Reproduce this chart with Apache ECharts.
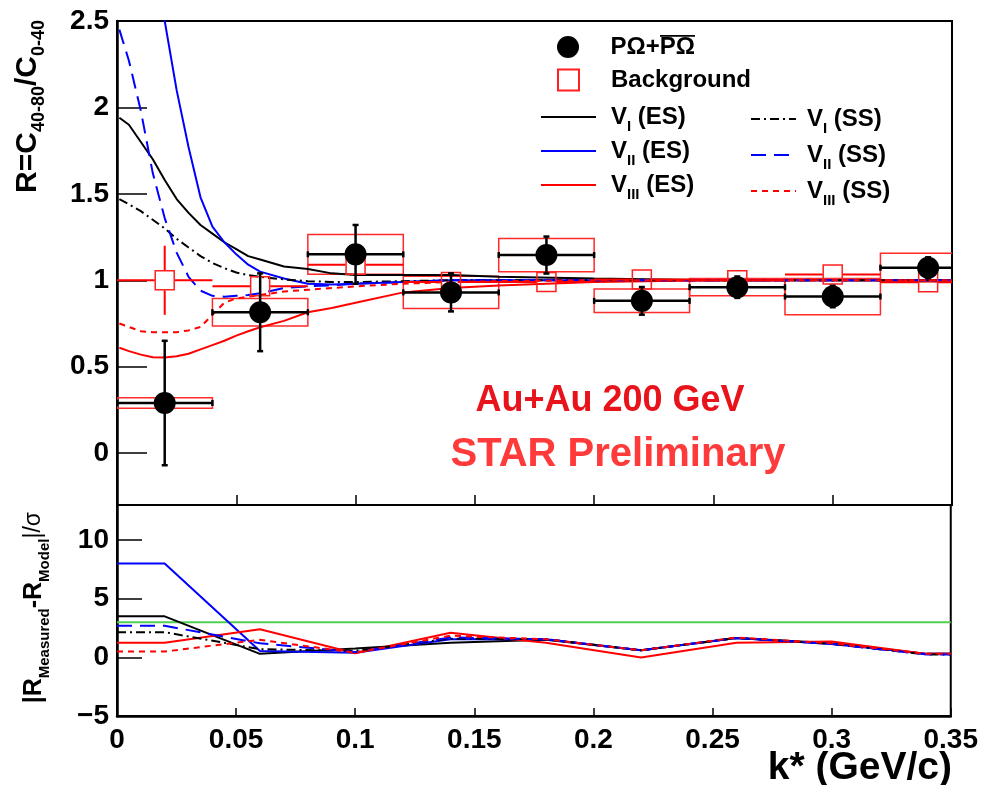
<!DOCTYPE html>
<html><head><meta charset="utf-8">
<script src="https://cdn.jsdelivr.net/npm/echarts@6/dist/echarts.min.js"></script>
<style>html,body{margin:0;padding:0;background:#fff}#c{width:981px;height:785px}</style>
</head><body><div id="c"></div>
<script>
// ---------------- data ----------------
const binCenters   = [0.02, 0.06, 0.10, 0.14, 0.18, 0.22, 0.26, 0.30, 0.34];
const binHalfWidth = [0.02, 0.02, 0.02, 0.02, 0.02, 0.02, 0.02, 0.02, 0.02];
const dataR        = [0.29, 0.815, 1.15, 0.93, 1.146, 0.881, 0.96, 0.906, 1.073];
const dataStatErr  = [0.36, 0.225, 0.17, 0.11, 0.107, 0.08, 0.062, 0.062, 0.06];
const dataSysErr   = [0.03, 0.08, 0.115, 0.093, 0.096, 0.068, 0.05, 0.105, 0.083];
const bkgR         = [1.0, 0.965, 1.09, 0.99, 0.99, 1.005, 1.0, 1.033, 0.988];
const bkgErr       = [0.2, 0.0, 0.0, 0.0, 0.0, 0.0, 0.0, 0.0, 0.0];

const kModel   = [0.001,0.005,0.01,0.015,0.02,0.025,0.03,0.035,0.04,0.045,0.05,0.055,0.06,0.07,0.08,0.09,0.1,0.12,0.14,0.16,0.2,0.25,0.3,0.35];
const vI_ES    = [1.94,1.90,1.80,1.70,1.58,1.47,1.39,1.32,1.27,1.22,1.18,1.14,1.12,1.08,1.065,1.04,1.03,1.03,1.03,1.02,1.01,1.0,1.0,1.0];
const vII_ES   = [5.0,4.0,3.45,2.95,2.5,2.1,1.77,1.48,1.31,1.22,1.15,1.09,1.05,1.01,0.98,0.975,0.98,0.99,1.0,1.0,1.0,1.0,1.0,1.0];
const vIII_ES  = [0.61,0.59,0.57,0.555,0.553,0.56,0.575,0.60,0.625,0.65,0.68,0.705,0.728,0.765,0.815,0.84,0.87,0.93,0.955,0.97,0.99,1.0,1.0,1.0];
const vI_SS    = [1.47,1.44,1.40,1.35,1.30,1.24,1.19,1.14,1.10,1.07,1.045,1.03,1.02,1.005,0.995,0.99,0.99,0.995,1.0,1.0,1.0,1.0,1.0,1.0];
const vII_SS   = [2.45,2.27,1.98,1.62,1.36,1.16,1.02,0.94,0.91,0.905,0.91,0.915,0.925,0.955,0.965,0.97,0.98,0.99,1.0,1.0,1.0,1.0,1.0,1.0];
const vIII_SS  = [0.75,0.73,0.705,0.70,0.70,0.70,0.71,0.73,0.80,0.87,0.895,0.905,0.915,0.935,0.945,0.955,0.965,0.98,0.99,0.995,1.0,1.0,1.0,1.0];

const kRes       = [0, 0.02, 0.06, 0.10, 0.14, 0.18, 0.22, 0.26, 0.30, 0.34, 0.35];
const resI_ES    = [3.5, 3.5, 0.3, 0.75, 1.25, 1.5, 0.6, 1.65, 1.2, 0.3, 0.3];
const resII_ES   = [8.0, 8.0, 0.55, 0.4, 1.55, 1.55, 0.6, 1.65, 1.15, 0.3, 0.3];
const resIII_ES  = [1.25, 1.25, 2.4, 0.35, 2.1, 1.25, 0.0, 1.25, 1.35, 0.3, 0.3];
const resI_SS    = [2.15, 2.15, 0.7, 0.55, 1.6, 1.55, 0.6, 1.65, 1.15, 0.25, 0.25];
const resII_SS   = [2.7, 2.7, 1.2, 0.45, 1.7, 1.55, 0.6, 1.65, 1.15, 0.25, 0.25];
const resIII_SS  = [0.5, 0.5, 1.5, 0.4, 1.85, 1.55, 0.6, 1.7, 1.2, 0.3, 0.3];
const resLimit   = [3, 3];
const resLimitK  = [0, 0.35];

const upperTicks = [0, 0.5, 1, 1.5, 2, 2.5];
const lowerTicks = [-5, 0, 5, 10];

// ---------------- helpers ----------------
const FONT = '"Liberation Sans", Arial, Helvetica, sans-serif';
const zip = (xs, ys) => xs.map((x, i) => [x, ys[i]]);
const names = {
  data: 'P\u03A9+P\u03A9bar', bkg: 'Background',
  iES: 'V_I (ES)', iiES: 'V_II (ES)', iiiES: 'V_III (ES)',
  iSS: 'V_I (SS)', iiSS: 'V_II (SS)', iiiSS: 'V_III (SS)'
};
function legendFmt(n) {
  if (n === names.data) return 'P\u03A9+{o|P\u03A9}';
  const m = n.match(/^V_(I+) \((..)\)$/);
  if (m) return 'V{s|' + m[1] + '} (' + m[2] + ')';
  return n;
}
// overline image used as a rich-text background
const ovCanvas = document.createElement('canvas');
ovCanvas.width = 8; ovCanvas.height = 28;
(function () { const g = ovCanvas.getContext('2d'); g.fillStyle = '#000'; g.fillRect(0, 0, 8, 2); })();

const legendText = (pad) => ({
  color: '#000', fontSize: 24, fontWeight: 'bold', fontFamily: FONT, lineHeight: 34, padding: [0, 0, 0, pad],
  rich: {
    s: {fontSize: 15, fontWeight: 'bold', fontFamily: FONT, lineHeight: 18, verticalAlign: 'bottom', color: '#000'},
    o: {fontSize: 24, fontWeight: 'bold', fontFamily: FONT, color: '#000', backgroundColor: {image: ovCanvas}}
  }
});
const noSym = {color: 'rgba(0,0,0,0)', borderColor: 'rgba(0,0,0,0)', borderWidth: 0};
const lineItem = (n) => ({name: n, itemStyle: noSym});

const chart = echarts.init(document.getElementById('c'), null, {renderer: 'canvas'});

function lineSeries(name, xs, ys, color, type, xi, z) {
  return {
    name, type: 'line', xAxisIndex: xi, yAxisIndex: xi, data: zip(xs, ys),
    symbol: 'none', showSymbol: false, clip: true, z: z || 3,
    lineStyle: {color, width: 2, type: type || 'solid'},
    itemStyle: {color}, emphasis: {disabled: true}, silent: true
  };
}

const DASH_DOT = [9, 4, 2, 4];
const LONG_DASH = [15, 8];
const SHORT_DASH = [6, 5];

const boxData = binCenters.map((x, i) => [x, dataR[i], binHalfWidth[i], dataSysErr[i]]);
const errData = binCenters.map((x, i) => [x, dataR[i], binHalfWidth[i], dataStatErr[i]]);
const bkgErrData = binCenters.map((x, i) => [x, bkgR[i], binHalfWidth[i], bkgErr[i]]);

const axisLineStyle = (w) => ({onZero: false, lineStyle: {color: '#000', width: w}});
const legendBase = {orient: 'vertical', padding: 0, itemGap: 0, selectedMode: false, formatter: legendFmt};

const option = {
  animation: false,
  backgroundColor: '#fff',
  grid: [
    {left: 117, right: 29, top: 21, height: 484, show: true, borderColor: '#000', borderWidth: 2},
    {left: 117, right: 29, top: 505, height: 211, show: true, borderColor: '#000', borderWidth: 2}
  ],
  xAxis: [
    {gridIndex: 0, type: 'value', min: 0, max: 0.35, interval: 0.05,
     axisLine: axisLineStyle(2),
     axisTick: {inside: true, length: 10, lineStyle: {color: '#000', width: 1.5}},
     axisLabel: {show: false}, splitLine: {show: false}},
    {gridIndex: 1, type: 'value', min: 0, max: 0.35, interval: 0.05,
     axisLine: axisLineStyle(2.5),
     axisTick: {inside: true, length: 8, lineStyle: {color: '#000', width: 1.5}},
     axisLabel: {show: true, color: '#000', fontSize: 28, fontWeight: 'bold', fontFamily: FONT, margin: 10,
       formatter: v => String(Math.round(v * 100) / 100)},
     splitLine: {show: false}}
  ],
  yAxis: [
    {gridIndex: 0, type: 'value', min: -0.3, max: 2.5,
     axisLine: axisLineStyle(2.5),
     axisTick: {inside: true, length: 30, customValues: upperTicks, lineStyle: {color: '#000', width: 1.5}},
     axisLabel: {customValues: upperTicks, color: '#000', fontSize: 28, fontWeight: 'bold', fontFamily: FONT, margin: 8,
       formatter: v => String(v)},
     splitLine: {show: false}},
    {gridIndex: 1, type: 'value', min: -5, max: 13,
     axisLine: axisLineStyle(2.5),
     axisTick: {inside: true, length: 25, customValues: lowerTicks, lineStyle: {color: '#000', width: 1.5}},
     axisLabel: {customValues: lowerTicks, color: '#000', fontSize: 28, fontWeight: 'bold', fontFamily: FONT, margin: 8,
       formatter: v => v < 0 ? '\u2212' + (-v) : String(v)},
     splitLine: {show: false}}
  ],
  legend: [
    Object.assign({left: 557, top: 30, itemWidth: 55, itemHeight: 22,
      data: [names.data], textStyle: legendText(10)}, legendBase),
    Object.assign({left: 557, top: 63, itemWidth: 21, itemHeight: 21,
      data: [names.bkg], textStyle: legendText(27)}, legendBase),
    Object.assign({left: 540, top: 100, itemWidth: 55, itemHeight: 22,
      data: [lineItem(names.iES), lineItem(names.iiES), lineItem(names.iiiES)], textStyle: legendText(10)}, legendBase),
    Object.assign({left: 750, top: 102, itemWidth: 45, itemHeight: 22,
      data: [lineItem(names.iSS), lineItem(names.iiSS), lineItem(names.iiiSS)], textStyle: legendText(6)}, legendBase, {itemGap: 2})
  ],
  graphic: [
    {type: 'text', x: 28, y: 20, rotation: Math.PI / 2,
     style: {text: 'R=C{s|40-80}/C{s|0-40}', fill: '#000', fontSize: 30, fontWeight: 'bold', fontFamily: FONT,
       lineHeight: 40, align: 'right', verticalAlign: 'middle',
       rich: {s: {fontSize: 18, fontWeight: 'bold', fontFamily: FONT, lineHeight: 20, verticalAlign: 'bottom', fill: '#000'}}}},
    {type: 'text', x: 34, y: 512, rotation: Math.PI / 2,
     style: {text: '|R{s|Measured}-R{s|Model}{n||/\u03C3}', fill: '#000', fontSize: 25, fontWeight: 'bold', fontFamily: FONT,
       lineHeight: 36, align: 'right', verticalAlign: 'middle',
       rich: {s: {fontSize: 15, fontWeight: 'bold', fontFamily: FONT, lineHeight: 17, verticalAlign: 'bottom', fill: '#000'},
              n: {fontSize: 23, fontWeight: 'normal', fontFamily: FONT, fill: '#000'}}}},
    {type: 'text', x: 952, y: 768,
     style: {text: 'k* (GeV/c)', fill: '#000', fontSize: 39, fontWeight: 'bold', fontFamily: FONT, align: 'right', verticalAlign: 'middle'}},
    {type: 'text', x: 610, y: 401,
     style: {text: 'Au+Au 200 GeV', fill: '#e8141c', fontSize: 36, fontWeight: 'bold', fontFamily: FONT, align: 'center', verticalAlign: 'middle'}},
    {type: 'text', x: 618, y: 455,
     style: {text: 'STAR Preliminary', fill: '#ff3a3a', fontSize: 40, fontWeight: 'bold', fontFamily: FONT, align: 'center', verticalAlign: 'middle'}}
  ],
  series: [
    // systematic boxes of data
    {name: 'sys', type: 'custom', xAxisIndex: 0, yAxisIndex: 0, clip: true, z: 2, silent: true,
     data: boxData,
     renderItem: (params, api) => {
       const x = api.value(0), y = api.value(1), ex = api.value(2), s = api.value(3);
       const p1 = api.coord([x - ex, y + s]), p2 = api.coord([x + ex, y - s]);
       return {type: 'rect', shape: {x: p1[0], y: p1[1], width: p2[0] - p1[0], height: p2[1] - p1[1]},
               style: {fill: 'none', stroke: '#ff2a2a', lineWidth: 1.5}};
     }},
    lineSeries(names.iES, kModel, vI_ES, '#000000', 'solid', 0, 3),
    lineSeries(names.iiES, kModel, vII_ES, '#0000ff', 'solid', 0, 3),
    lineSeries(names.iiiES, kModel, vIII_ES, '#ff0000', 'solid', 0, 3),
    lineSeries(names.iSS, kModel, vI_SS, '#000000', DASH_DOT, 0, 3),
    lineSeries(names.iiSS, kModel, vII_SS, '#0000ff', LONG_DASH, 0, 3),
    lineSeries(names.iiiSS, kModel, vIII_SS, '#ff0000', SHORT_DASH, 0, 3),
    // background error bars
    {name: 'bkgErr', type: 'custom', xAxisIndex: 0, yAxisIndex: 0, clip: true, z: 4, silent: true,
     data: bkgErrData,
     renderItem: (params, api) => {
       const x = api.value(0), y = api.value(1), ex = api.value(2), ey = api.value(3);
       const c = api.coord([x, y]), l = api.coord([x - ex, y]), r = api.coord([x + ex, y]);
       const t = api.coord([x, y + ey]), b = api.coord([x, y - ey]);
       const h = 10, st = {stroke: '#ff0000', lineWidth: 2};
       const ch = [
         {type: 'line', shape: {x1: l[0], y1: c[1], x2: c[0] - h, y2: c[1]}, style: st},
         {type: 'line', shape: {x1: c[0] + h, y1: c[1], x2: r[0], y2: c[1]}, style: st}
       ];
       if (c[1] - t[1] > h) {
         ch.push({type: 'line', shape: {x1: c[0], y1: t[1], x2: c[0], y2: c[1] - h}, style: st});
         ch.push({type: 'line', shape: {x1: c[0], y1: c[1] + h, x2: c[0], y2: b[1]}, style: st});
       }
       return {type: 'group', children: ch};
     }},
    {name: names.bkg, type: 'scatter', xAxisIndex: 0, yAxisIndex: 0, z: 5, silent: true,
     data: zip(binCenters, bkgR), symbol: 'rect', symbolSize: 19,
     itemStyle: {color: 'rgba(255,255,255,0)', borderColor: '#ff2020', borderWidth: 1.5, opacity: 1}},
    // data stat error bars
    {name: 'statErr', type: 'custom', xAxisIndex: 0, yAxisIndex: 0, clip: true, z: 6, silent: true,
     data: errData,
     renderItem: (params, api) => {
       const x = api.value(0), y = api.value(1), ex = api.value(2), ey = api.value(3);
       const c = api.coord([x, y]), l = api.coord([x - ex, y]), r = api.coord([x + ex, y]);
       const t = api.coord([x, y + ey]), b = api.coord([x, y - ey]);
       const k = 3, st = {stroke: '#000', lineWidth: 2.5};
       return {type: 'group', children: [
         {type: 'line', shape: {x1: l[0], y1: c[1], x2: r[0], y2: c[1]}, style: st},
         {type: 'line', shape: {x1: c[0], y1: t[1], x2: c[0], y2: b[1]}, style: st},
         {type: 'line', shape: {x1: l[0], y1: c[1] - k, x2: l[0], y2: c[1] + k}, style: st},
         {type: 'line', shape: {x1: r[0], y1: c[1] - k, x2: r[0], y2: c[1] + k}, style: st},
         {type: 'line', shape: {x1: c[0] - k, y1: t[1], x2: c[0] + k, y2: t[1]}, style: st},
         {type: 'line', shape: {x1: c[0] - k, y1: b[1], x2: c[0] + k, y2: b[1]}, style: st}
       ]};
     }},
    {name: names.data, type: 'scatter', xAxisIndex: 0, yAxisIndex: 0, z: 7, silent: true,
     data: zip(binCenters, dataR), symbol: 'circle', symbolSize: 22,
     itemStyle: {color: '#000', opacity: 1}},
    // lower panel
    lineSeries('limit', resLimitK, resLimit, '#50d050', 'solid', 1, 3),
    lineSeries('rI_ES', kRes, resI_ES, '#000000', 'solid', 1, 3),
    lineSeries('rII_ES', kRes, resII_ES, '#0000ff', 'solid', 1, 3),
    lineSeries('rIII_ES', kRes, resIII_ES, '#ff0000', 'solid', 1, 3),
    lineSeries('rI_SS', kRes, resI_SS, '#000000', DASH_DOT, 1, 3),
    lineSeries('rII_SS', kRes, resII_SS, '#0000ff', LONG_DASH, 1, 3),
    lineSeries('rIII_SS', kRes, resIII_SS, '#ff0000', SHORT_DASH, 1, 3)
  ]
};
chart.setOption(option);
</script>
</body></html>
